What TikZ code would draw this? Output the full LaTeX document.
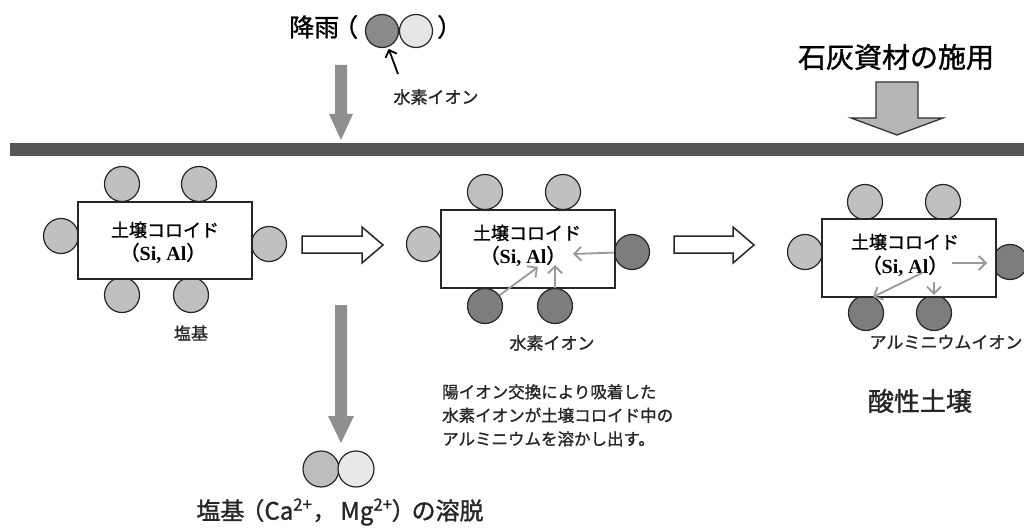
\documentclass[tikz,border=0pt]{standalone}
\usepackage{fontspec}
\setmainfont{Noto Sans CJK JP}
\newfontfamily\jp[FakeBold=1.2]{Noto Sans CJK JP}
\newfontfamily\tnr{Liberation Serif}
\usetikzlibrary{arrows.meta}
\definecolor{lightc}{HTML}{BFC0C2}
\definecolor{darkc}{HTML}{7D7D7D}
\definecolor{arrg}{HTML}{999999}
\definecolor{bigg}{HTML}{8F8F8F}
\definecolor{barc}{HTML}{555555}
\definecolor{limec}{HTML}{B4B5B7}
\definecolor{rainl}{HTML}{E6E6E6}
\definecolor{raind}{HTML}{8A8A8A}
\definecolor{outc}{HTML}{BDBDBD}
\definecolor{outl}{HTML}{E8E8E8}
\begin{document}
\begin{tikzpicture}[x=1pt,y=-1pt,
  lbl/.style={inner sep=0pt, text=black!85, font=\jp\fontsize{17}{20}\selectfont},
  ion/.style={circle, draw=black!85, line width=1.2pt, fill=lightc, minimum size=35pt, inner sep=0pt},
  hion/.style={ion, fill=darkc},
  colloid/.style={draw=black!85, line width=2pt, fill=white, minimum width=174pt, minimum height=77pt, inner sep=0pt},
  garr/.style={draw=arrg, line width=1.8pt, -{Straight Barb[length=7pt,width=14pt]}},
  hollow/.style={draw=black!85, line width=1.5pt, fill=white},
  sial/.style={inner sep=0pt, font=\fontsize{20}{22}\selectfont},
]
\useasboundingbox (0,0) rectangle (1024,529);

% ground bar
\fill[barc] (10,143) rectangle (1024,156);

% rain
\node[inner sep=0pt, anchor=west, font=\jp\fontsize{25}{28}\selectfont] (rain) at (289,27) {降雨\kern-6pt（};
\node[ion, fill=raind, minimum size=33pt] (rd) at (382,31) {};
\node[ion, fill=rainl, minimum size=33pt] (rl) at (416,31) {};
\node[inner sep=0pt, anchor=west, font=\jp\fontsize{25}{28}\selectfont] (rainc) at (437,27) {）};
\coordinate (hpt) at (398,74);
\draw[line width=1.8pt, -{Straight Barb[length=6pt,width=12pt]}, shorten >=2pt] (hpt) -- (rd);
\node[lbl] (hlab) at (436,97) {水素イオン};

% grey down arrows
\fill[bigg] (335,65) -- (347,65) -- (347,114) -- (353,114) -- (341,140) -- (329,114) -- (335,114) -- cycle;
\fill[bigg] (335,305) -- (347,305) -- (347,416) -- (354,416) -- (341,443) -- (328,416) -- (335,416) -- cycle;

% lime
\node[inner sep=0pt, font=\jp\fontsize{28}{30}\selectfont] (lime) at (896,57) {石灰資材の施用};
\draw[line width=1.3pt, draw=black!80, fill=limec] (876,82) -- (918,82) -- (918,118) -- (943,118) -- (897,135) -- (851,118) -- (876,118) -- cycle;

% box 1
\node[ion] (a1) at (122,184) {};
\node[ion] (a2) at (199,184) {};
\node[ion] (a3) at (61,236) {};
\node[ion] (a4) at (269,244) {};
\node[ion] (a5) at (122,295) {};
\node[ion] (a6) at (191,295) {};
\node[colloid] (b1) at (165,240.5) {};
\node[lbl, text=black, font=\jp\fontsize{18}{20}\selectfont] (t1) at (165,230) {土壌コロイド};
\node[sial] (s1) at (163,253) {{\jp （}{\tnr\bfseries Si, Al}{\jp ）}};
\node[lbl] (l1) at (191,333) {塩基};

% hollow arrows
\draw[hollow] (302,236) -- (362,236) -- (362,227) -- (383,245) -- (362,263) -- (362,253) -- (302,253) -- cycle;
\draw[hollow] (674,236) -- (733,236) -- (733,227) -- (754,245) -- (733,263) -- (733,253) -- (674,253) -- cycle;

% box 2
\node[ion] (c1) at (485,192) {};
\node[ion] (c2) at (563,192) {};
\node[ion] (c3) at (424,244) {};
\node[hion] (c4) at (632,252) {};
\node[hion] (c5) at (485,306) {};
\node[hion] (c6) at (555,306) {};
\node[colloid] (b2) at (528,249) {};
\node[lbl, text=black, font=\jp\fontsize{18}{20}\selectfont] (t2) at (527,233) {土壌コロイド};
\node[sial] (s2) at (523,256) {{\jp （}{\tnr\bfseries Si, Al}{\jp ）}};
\coordinate (m2a) at (538,267);
\coordinate (m2b) at (555,265);
\coordinate (m2c) at (573,254);
\draw[garr] (c5) -- (m2a);
\draw[garr] (c6) -- (m2b);
\draw[garr] (c4) -- (m2c);
\node[lbl] (l2) at (552,343) {水素イオン};

% box 3
\node[ion] (d1) at (865,202) {};
\node[ion] (d2) at (943,202) {};
\node[ion] (d3) at (805,252) {};
\node[hion] (d4) at (1010,262) {};
\node[hion] (d5) at (866,313) {};
\node[hion] (d6) at (934,313) {};
\node[colloid] (b3) at (908.5,258) {};
\node[lbl, text=black, font=\jp\fontsize{18}{20}\selectfont] (t3) at (905,242) {土壌コロイド};
\node[sial] (s3) at (905,266) {{\jp （}{\tnr\bfseries Si, Al}{\jp ）}};
\coordinate (m3a) at (952,263);
\coordinate (m3a2) at (987,263);
\coordinate (m3b) at (922,273);
\coordinate (m3b2) at (873,297);
\coordinate (m3c) at (934,282);
\draw[garr] (m3a) -- (m3a2);
\draw[garr] (m3b) -- (m3b2);
\draw[garr] (m3c) -- (d6);
\node[lbl] (l3) at (946,342) {アルミニウムイオン};

% explanation
\node[lbl, anchor=north west, align=left, font=\jp\fontsize{16.5}{23.5}\selectfont] (expl) at (442,384)
  {陽イオン交換により吸着した\\水素イオンが土壌コロイド中の\\アルミニウムを溶かし出す。};
\node[inner sep=0pt, font=\jp\fontsize{26}{28}\selectfont, text=black!85] (acid) at (920,401) {酸性土壌};

% leached bases
\node[ion, fill=outc, minimum size=36pt] (o1) at (321,469) {};
\node[ion, fill=outl, minimum size=36pt] (o2) at (356,469) {};
\node[inner sep=0pt, font=\jp\fontsize{24}{26}\selectfont, text=black!85] (leach) at (340,512)
  {塩基\kern-4pt（Ca\textsuperscript{2+}，\,Mg\textsuperscript{2+}\kern-1pt）\kern-4pt の溶脱};
\end{tikzpicture}
\end{document}
